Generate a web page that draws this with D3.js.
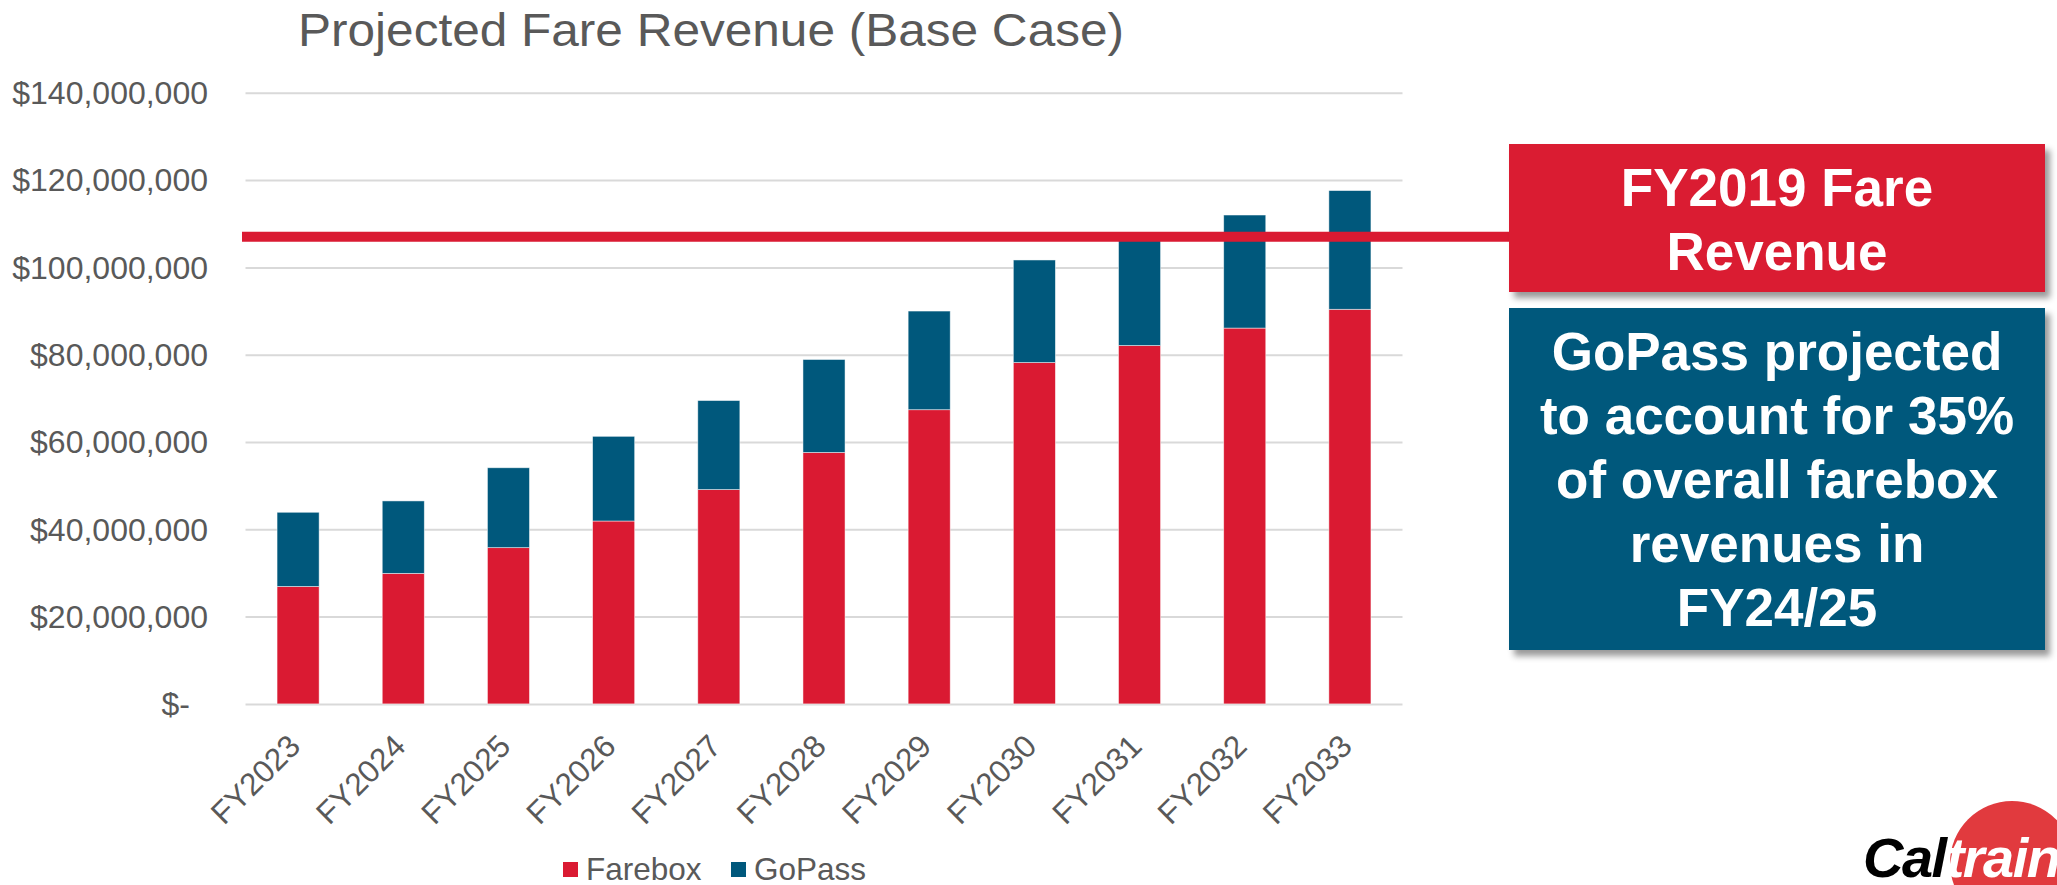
<!DOCTYPE html>
<html lang="en">
<head>
<meta charset="utf-8">
<title>Projected Fare Revenue</title>
<script src="https://cdn.jsdelivr.net/npm/d3@7"></script>
<style>
  body { margin: 0; background: #fff; }
  svg text { font-family: "Liberation Sans", Arial, sans-serif; }
  .grid line { stroke: #d9d9d9; stroke-width: 2; }
  .grid path { display: none; }
  .axis text { fill: #595959; }
  .axis path, .axis line { display: none; }
</style>
</head>
<body>
<script>
// ---- data (values in dollars) ----
var years = ["FY2023", "FY2024", "FY2025", "FY2026", "FY2027", "FY2028",
             "FY2029", "FY2030", "FY2031", "FY2032", "FY2033"];
var farebox = [26.9e6, 29.9e6, 35.8e6, 41.9e6, 49.1e6, 57.6e6,
               67.4e6, 78.2e6, 82.1e6, 86.1e6, 90.4e6];
var gopass  = [17.0e6, 16.6e6, 18.3e6, 19.4e6, 20.4e6, 21.3e6,
               22.6e6, 23.5e6, 24.4e6, 25.9e6, 27.2e6];
var yTicks = [0, 20e6, 40e6, 60e6, 80e6, 100e6, 120e6, 140e6];
var fy2019Revenue = 107e6;
var seriesNames = ["Farebox", "GoPass"];
var colors = { Farebox: "#da1a32", GoPass: "#00587c" };

var redBoxLines = ["FY2019 Fare", "Revenue"];
var blueBoxLines = ["GoPass projected", "to account for 35%", "of overall farebox",
                    "revenues in", "FY24/25"];

var w = 2057, h = 885;
var plot = { left: 245.5, right: 1402.5, top: 92.8, bottom: 703.9 };

var svg = d3.select("body").append("svg")
    .attr("width", w)
    .attr("height", h);

// drop shadow for the callout boxes
var defs = svg.append("defs");
defs.append("filter")
    .attr("id", "shadow")
    .attr("x", "-10%").attr("y", "-10%")
    .attr("width", "130%").attr("height", "130%")
  .append("feDropShadow")
    .attr("dx", 5).attr("dy", 6)
    .attr("stdDeviation", 3)
    .attr("flood-color", "#000")
    .attr("flood-opacity", 0.4);

// scales
var x = d3.scaleBand()
    .domain(years)
    .range([plot.left, plot.right])
    .paddingInner(0.6)
    .paddingOuter(0.3);

var y = d3.scaleLinear()
    .domain([0, 140e6])
    .range([plot.bottom, plot.top]);

// gridlines
svg.append("g")
    .attr("class", "grid")
    .attr("transform", "translate(" + plot.left + ",0)")
    .call(d3.axisLeft(y).tickValues(yTicks)
        .tickSize(-(plot.right - plot.left)).tickFormat(""));

// y axis labels
var yAxis = svg.append("g")
    .attr("class", "axis")
    .attr("transform", "translate(208,0)")
    .call(d3.axisLeft(y).tickValues(yTicks).tickSize(0).tickPadding(0)
        .tickFormat(function(d) { return d === 0 ? "$-" : d3.format("$,")(d); }));
yAxis.selectAll("text")
    .attr("font-size", 32)
    .attr("dy", "0.34em")
    .attr("dx", function(d) { return d === 0 ? -18 : 0; });

// stacked bars
var table = years.map(function(yr, i) {
    return { year: yr, Farebox: farebox[i], GoPass: gopass[i] };
});
var stacked = d3.stack().keys(seriesNames)(table);

svg.append("g").selectAll("g")
    .data(stacked)
    .enter().append("g")
    .attr("fill", function(s) { return colors[s.key]; })
  .selectAll("rect")
    .data(function(s) { return s; })
    .enter().append("rect")
    .attr("x", function(d) { return x(d.data.year); })
    .attr("width", x.bandwidth())
    .attr("y", function(d) { return y(d[1]); })
    .attr("height", function(d) { return y(d[0]) - y(d[1]); })
    .attr("stroke", "#fff")
    .attr("stroke-opacity", 0.6)
    .attr("stroke-width", 0.8);

// x axis labels (rotated)
svg.append("g").selectAll("text")
    .data(years)
    .enter().append("text")
    .attr("transform", function(d) {
        return "translate(" + (x(d) + x.bandwidth() / 2 + 4) + ",748) rotate(-45)";
    })
    .attr("text-anchor", "end")
    .attr("font-size", 31.5)
    .attr("fill", "#595959")
    .text(function(d) { return d; });

// FY2019 reference line
svg.append("line")
    .attr("x1", 242)
    .attr("x2", 1512)
    .attr("y1", y(fy2019Revenue))
    .attr("y2", y(fy2019Revenue))
    .attr("stroke", colors.Farebox)
    .attr("stroke-width", 10);

// title
svg.append("text")
    .attr("x", 298)
    .attr("y", 46)
    .attr("font-size", 46)
    .attr("fill", "#595959")
    .attr("textLength", 826)
    .attr("lengthAdjust", "spacingAndGlyphs")
    .text("Projected Fare Revenue (Base Case)");

// callout boxes
var boxX = 1509, boxW = 536, boxCx = boxX + boxW / 2;

svg.append("rect")
    .attr("x", boxX).attr("y", 144)
    .attr("width", boxW).attr("height", 148)
    .attr("fill", colors.Farebox)
    .attr("filter", "url(#shadow)");

svg.append("g").selectAll("text")
    .data(redBoxLines)
    .enter().append("text")
    .attr("x", boxCx)
    .attr("y", function(d, i) { return 206 + i * 64; })
    .attr("text-anchor", "middle")
    .attr("font-size", 53)
    .attr("font-weight", "bold")
    .attr("fill", "#fff")
    .text(function(d) { return d; });

svg.append("rect")
    .attr("x", boxX).attr("y", 308)
    .attr("width", boxW).attr("height", 342)
    .attr("fill", colors.GoPass)
    .attr("filter", "url(#shadow)");

svg.append("g").selectAll("text")
    .data(blueBoxLines)
    .enter().append("text")
    .attr("x", boxCx)
    .attr("y", function(d, i) { return 370 + i * 63.9; })
    .attr("text-anchor", "middle")
    .attr("font-size", 53)
    .attr("font-weight", "bold")
    .attr("fill", "#fff")
    .text(function(d) { return d; });

// legend
var legendX = [563, 731];
var legend = svg.append("g").selectAll("g")
    .data(seriesNames)
    .enter().append("g")
    .attr("transform", function(d, i) { return "translate(" + legendX[i] + ",0)"; });
legend.append("rect")
    .attr("x", 0).attr("y", 862)
    .attr("width", 15).attr("height", 15)
    .attr("fill", function(d) { return colors[d]; });
legend.append("text")
    .attr("x", 23).attr("y", 880)
    .attr("font-size", 31.5)
    .attr("fill", "#595959")
    .text(function(d) { return d; });

// Caltrain logo (cropped at the corner)
svg.append("circle")
    .attr("cx", 2012).attr("cy", 863).attr("r", 62)
    .attr("fill", "#e13a3e");
var logo = svg.append("text")
    .attr("x", 1863).attr("y", 877)
    .attr("font-size", 56)
    .attr("font-weight", "bold")
    .attr("font-style", "italic")
    .attr("letter-spacing", -1.5);
logo.append("tspan").attr("fill", "#000").text("Cal");
logo.append("tspan").attr("fill", "#fff").text("train");
</script>
</body>
</html>
